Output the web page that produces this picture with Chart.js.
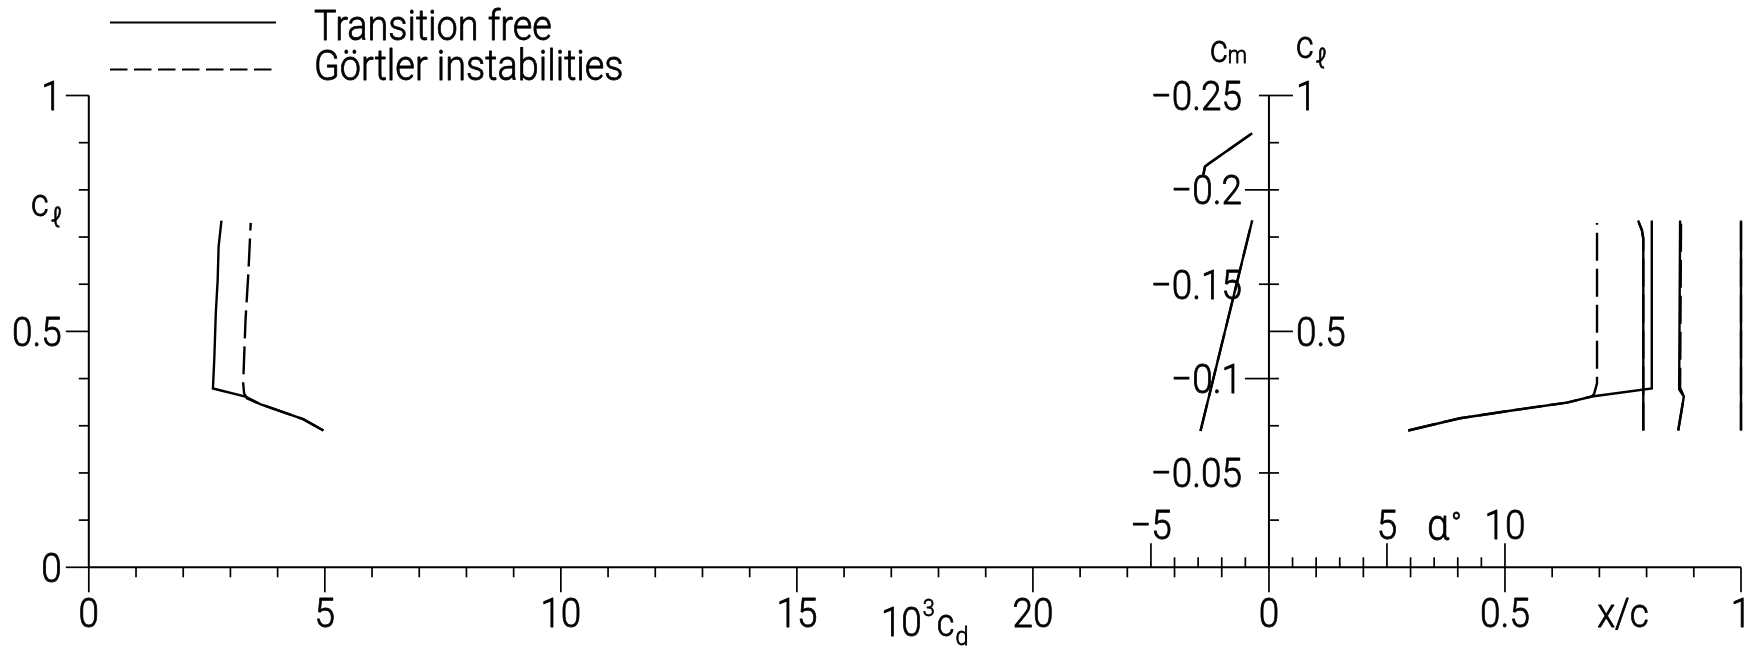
<!DOCTYPE html>
<html>
<head>
<meta charset="utf-8">
<script src="https://cdn.jsdelivr.net/npm/chart.js@4.4.1/dist/chart.umd.min.js"></script>
<style>
html,body{margin:0;padding:0;background:#fff;}
canvas{display:block;}
</style>
</head>
<body>
<canvas id="c" width="1760" height="650" style="width:1760px;height:650px"></canvas>
<script>
// ---------------- data ----------------
const seriesNames = ['Transition free', 'Görtler instabilities'];

// drag polar : 10^3 c_d  vs  c_l
const tfPolarCd = [4.97, 4.54, 3.63, 3.32, 2.63, 2.66, 2.69, 2.73, 2.75, 2.81];
const tfPolarCl = [0.290, 0.314, 0.346, 0.362, 0.379, 0.446, 0.538, 0.609, 0.680, 0.735];
const goPolarCd = [4.97, 4.54, 3.63, 3.35, 3.29, 3.27, 3.32, 3.38, 3.43];
const goPolarCl = [0.290, 0.314, 0.346, 0.358, 0.369, 0.390, 0.524, 0.623, 0.730];

// lift curve : alpha (deg) vs c_l
const liftAlpha = [-2.90, -0.71];
const liftCl = [0.289, 0.735];

// moment curve : alpha (deg) vs c_m
const momAlpha = [-2.78, -2.71, -2.57, -0.71];
const momCm = [-0.208, -0.2123, -0.2137, -0.230];

// transition locations : x/c vs c_l
const tfUpperXc = [0.295, 0.405, 0.518, 0.631, 0.684, 0.811, 0.811];
const tfUpperCl = [0.290, 0.316, 0.333, 0.349, 0.362, 0.379, 0.735];
const goUpperXc = [0.295, 0.405, 0.518, 0.631, 0.684, 0.689, 0.695, 0.695];
const goUpperCl = [0.290, 0.316, 0.333, 0.349, 0.362, 0.368, 0.390, 0.730];
const lowerXc = [0.793, 0.793, 0.790, 0.782];
const lowerCl = [0.290, 0.697, 0.715, 0.735];
const tfRearXc = [0.867, 0.879, 0.869, 0.871];
const tfRearCl = [0.290, 0.362, 0.377, 0.735];
const goRearXc = [0.867, 0.879, 0.871, 0.873];
const goRearCl = [0.290, 0.362, 0.380, 0.730];
const teXc = [1.0, 1.0];
const teCl = [0.290, 0.735];

// ---------------- tick labels ----------------
const cdTicks = [0, 5, 10, 15, 20];
const cdTickLabels = ['0', '5', '10', '15', '20'];
const alphaTicks = [-5, 5, 10];
const alphaTickLabels = ['\u22125', '5', '10'];
const xcTicks = [0, 0.5, 1];
const xcTickLabels = ['0', '0.5', '1'];
const clTicks = [0, 0.5, 1];
const clTickLabels = ['0', '0.5', '1'];
const clRightTicks = [0.5, 1];
const clRightTickLabels = ['0.5', '1'];
const cmTicks = [-0.25, -0.2, -0.15, -0.1, -0.05];
const cmTickLabels = ['\u22120.25', '\u22120.2', '\u22120.15', '\u22120.1', '\u22120.05'];

// ---------------- helpers ----------------
const zip = (xs, ys) => xs.map((x, i) => ({x: x, y: ys[i]}));
const SOLID = [];
const DASH = [28, 8];
function ds(label, xs, ys, xAxis, yAxis, dash) {
  return {
    label: label, data: zip(xs, ys), xAxisID: xAxis, yAxisID: yAxis,
    showLine: true, borderColor: '#000', borderWidth: 2.4, borderDash: dash,
    pointRadius: 0, pointHoverRadius: 0, fill: false, tension: 0, clip: false
  };
}

const datasets = [
  ds(seriesNames[0], tfPolarCd, tfPolarCl, 'xcd', 'ycl', SOLID),
  ds(seriesNames[1], goPolarCd, goPolarCl, 'xcd', 'ycl', DASH),
  ds(seriesNames[0], liftAlpha, liftCl, 'xa', 'ycl', SOLID),
  ds(seriesNames[1], liftAlpha, liftCl, 'xa', 'ycl', DASH),
  ds(seriesNames[0], momAlpha, momCm, 'xa', 'ycm', SOLID),
  ds(seriesNames[1], momAlpha, momCm, 'xa', 'ycm', DASH),
  ds(seriesNames[0], tfUpperXc, tfUpperCl, 'xc', 'ycl', SOLID),
  ds(seriesNames[1], goUpperXc, goUpperCl, 'xc', 'ycl', DASH),
  ds(seriesNames[0], lowerXc, lowerCl, 'xc', 'ycl', SOLID),
  ds(seriesNames[1], lowerXc, lowerCl, 'xc', 'ycl', DASH),
  ds(seriesNames[0], tfRearXc, tfRearCl, 'xc', 'ycl', SOLID),
  ds(seriesNames[1], goRearXc, goRearCl, 'xc', 'ycl', DASH),
  ds(seriesNames[0], teXc, teCl, 'xc', 'ycl', SOLID),
  ds(seriesNames[1], teXc, teCl, 'xc', 'ycl', DASH)
];

const FONT = 'Roboto, "Liberation Sans", sans-serif';
const WEIGHT = '300';
const SX = 0.9;

function txt(ctx, s, x, y, align, size) {
  ctx.save();
  ctx.font = WEIGHT + ' ' + size + 'px ' + FONT;
  ctx.textBaseline = 'alphabetic';
  ctx.textAlign = 'left';
  ctx.fillStyle = '#000';
  ctx.strokeStyle = '#000';
  ctx.lineWidth = 0.8;
  ctx.lineJoin = 'round';
  const w = ctx.measureText(s).width * SX;
  const x0 = align === 'left' ? x : (align === 'right' ? x - w : x - w / 2);
  ctx.translate(x0, y);
  ctx.scale(SX, 1);
  ctx.fillText(s, 0, 0);
  ctx.strokeText(s, 0, 0);
  ctx.restore();
  return w;
}
function seg(ctx, x1, y1, x2, y2, w, dash) {
  ctx.save();
  ctx.strokeStyle = '#000';
  ctx.lineWidth = w;
  ctx.setLineDash(dash || []);
  ctx.beginPath();
  ctx.moveTo(x1, y1);
  ctx.lineTo(x2, y2);
  ctx.stroke();
  ctx.restore();
}

const axesPlugin = {
  id: 'axesPlugin',
  afterDraw(chart) {
    const ctx = chart.ctx;
    const s = chart.scales;
    const xcd = v => s.xcd.getPixelForValue(v);
    const xa = v => s.xa.getPixelForValue(v);
    const xc = v => s.xc.getPixelForValue(v);
    const ycl = v => s.ycl.getPixelForValue(v);
    const ycm = v => s.ycm.getPixelForValue(v);
    const AX = 2, TK = 1.7;
    const big = 41;
    const y0 = ycl(0), y1 = ycl(1);
    const xL = xcd(0), xR = xa(0);

    // axis lines
    seg(ctx, xL, y0, xc(1), y0, AX);
    seg(ctx, xL, y1, xL, y0, AX);
    seg(ctx, xR, y1, xR, y0, AX);

    // drag ticks (downwards)
    for (let v = 0; v <= 24; v++) {
      seg(ctx, xcd(v), y0, xcd(v), y0 + (v % 5 === 0 ? 25 : 10), TK);
    }
    // x/c ticks (downwards)
    for (let k = 0; k <= 10; k++) {
      seg(ctx, xc(k / 10), y0, xc(k / 10), y0 + (k % 5 === 0 ? 25 : 10), TK);
    }
    // alpha ticks (upwards)
    for (let a = -5; a <= 10; a++) {
      if (a === 0) continue;
      seg(ctx, xa(a), y0, xa(a), y0 - (a % 5 === 0 ? 24 : 10), TK);
    }
    // left cl ticks
    for (let k = 0; k <= 10; k++) {
      seg(ctx, xL, ycl(k / 10), xL - (k % 5 === 0 ? 23 : 10), ycl(k / 10), TK);
    }
    // right cl ticks
    for (let k = 1; k <= 10; k++) {
      seg(ctx, xR, ycl(k / 10), xR + (k % 5 === 0 ? 24 : 10), ycl(k / 10), TK);
    }
    // cm ticks (left of right axis)
    for (let k = 1; k <= 5; k++) {
      const v = -0.05 * k;
      seg(ctx, xR, ycm(v), xR - (k % 2 === 0 ? 24 : 10), ycm(v), TK);
    }

    // tick labels
    cdTicks.forEach((v, i) => txt(ctx, cdTickLabels[i], xcd(v), 627, 'center', big));
    xcTicks.forEach((v, i) => txt(ctx, xcTickLabels[i], xc(v), 627, 'center', big));
    alphaTicks.forEach((v, i) => txt(ctx, alphaTickLabels[i], xa(v), 539, 'center', big));
    clTicks.forEach((v, i) => txt(ctx, clTickLabels[i], xL - 27, ycl(v) + 14.5, 'right', big));
    clRightTicks.forEach((v, i) => txt(ctx, clRightTickLabels[i], xR + 27, ycl(v) + 14.5, 'left', big));
    cmTicks.forEach((v, i) => txt(ctx, cmTickLabels[i], xR - 27, ycm(v) + 14.5, 'right', big));

    // axis titles
    // left c_l
    let w = txt(ctx, 'c', 31, 216, 'left', 38);
    txt(ctx, '\u2113', 31 + w + 2, 227, 'left', 27);
    // right c_l
    w = txt(ctx, 'c', xR + 27, 58, 'left', 38);
    txt(ctx, '\u2113', xR + 27 + w + 2, 68, 'left', 27);
    // c_m
    w = txt(ctx, 'c', 1210, 62, 'left', 38);
    txt(ctx, 'm', 1210 + w, 63, 'left', 24);
    // alpha
    w = txt(ctx, '\u03b1', xa(7.5) - 19, 540, 'left', 44);
    txt(ctx, '\u00b0', xa(7.5) - 19 + w + 2, 533, 'left', 30);
    // x/c
    txt(ctx, 'x/c', xc(0.75), 627, 'center', big);
    // 10^3 c_d
    let x = xcd(17.5) - 34;
    w = txt(ctx, '10', x, 636, 'left', big); x += w + 1;
    w = txt(ctx, '3', x, 616, 'left', 24); x += w + 2;
    w = txt(ctx, 'c', x, 636, 'left', 38); x += w + 1;
    txt(ctx, 'd', x, 645, 'left', 26);

    // legend
    seg(ctx, 110, 22.5, 276, 22.5, 2);
    seg(ctx, 110, 69.5, 276, 69.5, 2, [17.5, 6.5]);
    txt(ctx, seriesNames[0], 314, 40, 'left', 42);
    txt(ctx, seriesNames[1], 314, 80, 'left', 42);
  }
};

new Chart(document.getElementById('c').getContext('2d'), {
  type: 'scatter',
  data: {datasets: datasets},
  options: {
    responsive: false,
    animation: false,
    devicePixelRatio: 1,
    events: [],
    layout: {autoPadding: false, padding: {left: 88.8, right: 19, top: 95.5, bottom: 82.7}},
    plugins: {legend: {display: false}, tooltip: {enabled: false}},
    scales: {
      xcd: {type: 'linear', axis: 'x', position: 'bottom', min: 0, max: 35, display: false},
      xa: {type: 'linear', axis: 'x', position: 'bottom', min: -50, max: 20, display: false},
      xc: {type: 'linear', axis: 'x', position: 'bottom', min: -2.5, max: 1, display: false},
      ycl: {type: 'linear', axis: 'y', position: 'left', min: 0, max: 1, display: false},
      ycm: {type: 'linear', axis: 'y', position: 'left', min: -0.25, max: 0, reverse: true, display: false}
    }
  },
  plugins: [axesPlugin]
});
</script>
</body>
</html>
